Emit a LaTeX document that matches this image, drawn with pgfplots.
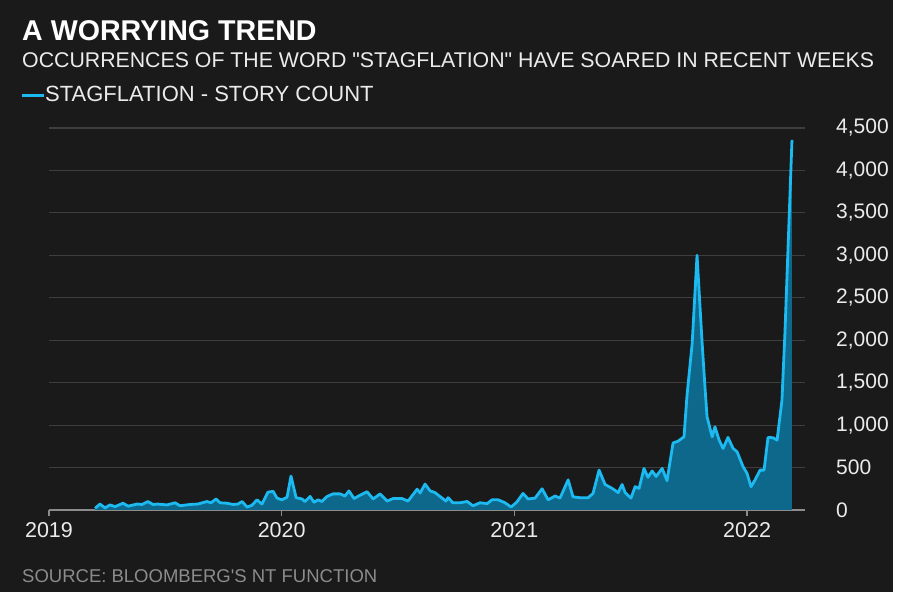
\documentclass[border=0pt]{standalone}
\usepackage{pgfplots}
\usepackage{pgfplotstable}
\pgfplotsset{compat=1.18}
\usepackage{fontspec}
\setmainfont{Liberation Sans}
\definecolor{bg}{RGB}{26,26,26}
\definecolor{gridc}{RGB}{62,62,62}
\definecolor{axisc}{RGB}{140,140,140}
\definecolor{linec}{RGB}{28,186,240}
\definecolor{fillc}{RGB}{14,104,140}
\definecolor{txt}{RGB}{235,235,235}
\definecolor{srcc}{RGB}{140,140,140}
\pgfplotstableread{
x count
2019.198 20
2019.219 70
2019.241 25
2019.262 60
2019.284 40
2019.318 80
2019.340 45
2019.378 70
2019.400 65
2019.425 100
2019.447 65
2019.468 70
2019.507 60
2019.542 85
2019.563 50
2019.606 65
2019.640 70
2019.679 100
2019.696 85
2019.718 130
2019.735 85
2019.765 80
2019.791 65
2019.812 70
2019.830 100
2019.851 35
2019.872 55
2019.894 120
2019.915 70
2019.941 210
2019.963 220
2019.980 140
2020.001 120
2020.023 150
2020.040 400
2020.062 145
2020.087 130
2020.100 100
2020.122 160
2020.139 90
2020.156 120
2020.173 100
2020.195 160
2020.221 190
2020.251 190
2020.272 165
2020.289 225
2020.311 135
2020.337 175
2020.367 215
2020.393 130
2020.423 190
2020.453 105
2020.479 135
2020.517 135
2020.543 105
2020.582 245
2020.595 200
2020.616 305
2020.638 225
2020.659 205
2020.680 160
2020.706 105
2020.715 145
2020.736 85
2020.766 85
2020.797 100
2020.822 50
2020.852 85
2020.883 75
2020.904 120
2020.930 120
2020.960 85
2020.986 35
2021.011 95
2021.037 195
2021.059 130
2021.089 140
2021.119 250
2021.145 120
2021.175 165
2021.196 140
2021.231 355
2021.252 155
2021.282 145
2021.317 145
2021.338 195
2021.364 470
2021.390 300
2021.420 255
2021.446 205
2021.463 300
2021.476 205
2021.501 140
2021.519 275
2021.536 255
2021.557 490
2021.574 385
2021.592 460
2021.609 395
2021.635 490
2021.656 345
2021.682 790
2021.703 810
2021.729 862
2021.742 1352
2021.764 1960
2021.785 3000
2021.807 1960
2021.820 1411
2021.828 1098
2021.850 862
2021.862 980
2021.880 823
2021.897 725
2021.918 855
2021.940 725
2021.957 686
2021.983 510
2022.000 431
2022.017 274
2022.034 353
2022.056 470
2022.073 470
2022.090 855
2022.112 851
2022.129 823
2022.150 1294
2022.163 2100
2022.193 4360
}\datatable
\begin{document}
\begin{tikzpicture}[x=1pt,y=1pt]
\fill[white] (0,0) rectangle (900,600);
\fill[bg] (0,8) rectangle (893,600);
\begin{axis}[
  at={(49pt,90pt)}, anchor=south west,
  scale only axis, width=756pt, height=382pt,
  xmin=2019, xmax=2022.249, ymin=0, ymax=4500,
  axis x line*=bottom, axis y line*=right,
  y axis line style={draw=none},
  x axis line style={draw=axisc, line width=1.6pt, -},
  xtick={2019,2020,2021,2022},
  xticklabels={2019,2020,2021,2022},
  ytick={0,500,...,4500},
  yticklabels={0,500,{1,000},{1,500},{2,000},{2,500},{3,000},{3,500},{4,000},{4,500}},
  ymajorgrids, grid style={draw=gridc, line width=1.2pt},
  xtick style={draw=axisc, line width=1.4pt},
  ytick style={draw=none},
  tick align=outside, major tick length=6pt,
  xticklabel style={font=\fontsize{21.5}{24}\selectfont, text=txt, inner sep=0pt, anchor=north, yshift=-6pt},
  yticklabel style={font=\fontsize{21}{24}\selectfont, text=txt, inner sep=0pt, anchor=west, xshift=25pt},
  clip=false,
]
\addplot[fill=fillc, draw=none] table[x=x, y=count] {\datatable} \closedcycle;
\addplot[draw=linec, line width=2.8pt, line join=round] table[x=x, y=count] {\datatable};
\end{axis}
\node[anchor=base west, inner sep=0pt, text=white, font=\bfseries\fontsize{28.6}{32}\selectfont] at (22,559) {A WORRYING TREND};
\node[anchor=base west, inner sep=0pt, text=txt, font=\fontsize{21.3}{24}\selectfont] at (22,532) {OCCURRENCES OF THE WORD \textquotedbl STAGFLATION\textquotedbl{} HAVE SOARED IN RECENT WEEKS};
\draw[linec, line width=3pt] (22,504) -- (44,504);
\node[anchor=base west, inner sep=0pt, text=txt, font=\fontsize{22}{24}\selectfont] at (45,498.3) {STAGFLATION - STORY COUNT};
\node[anchor=base west, inner sep=0pt, text=srcc, font=\fontsize{18.5}{22}\selectfont] at (22,17) {SOURCE: BLOOMBERG\textquotesingle S NT FUNCTION};
\end{tikzpicture}
\end{document}
